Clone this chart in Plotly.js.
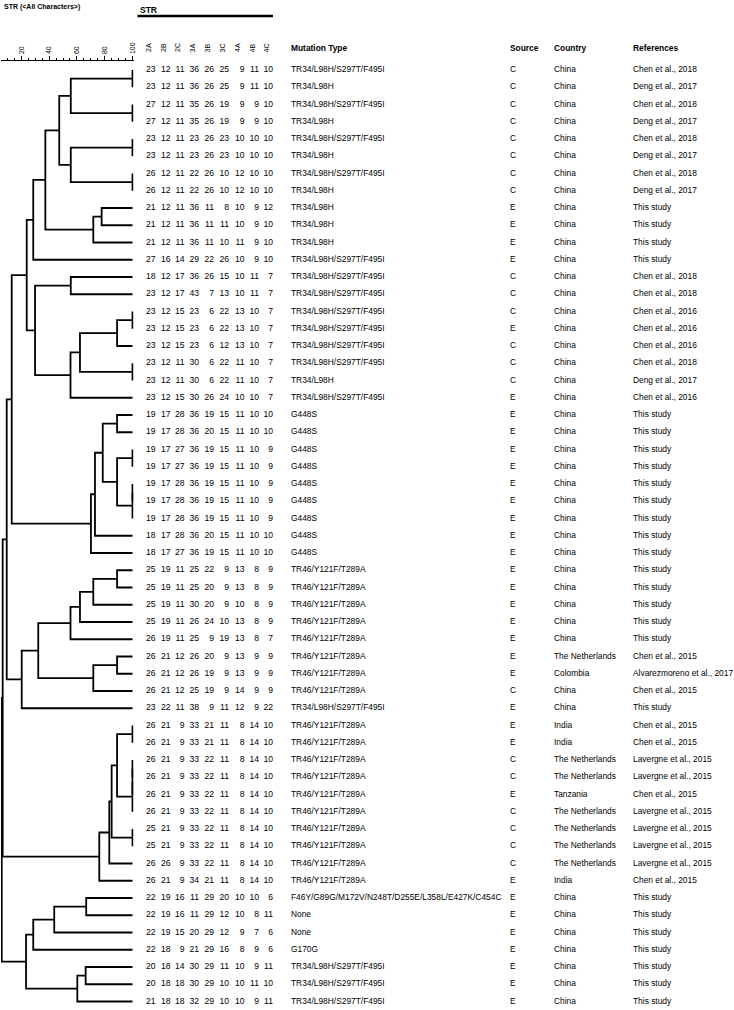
<!DOCTYPE html>
<html>
<head>
<meta charset="utf-8">
<script src="https://cdn.plot.ly/plotly-3.0.1.min.js"></script>
<style>
html,body{margin:0;padding:0;background:#fff;}
#chart{width:734px;height:1010px;}
</style>
</head>
<body>
<div id="chart"></div>
<script>
// ---------------- DATA ----------------
const strLoci = ['2A','2B','2C','3A','3B','3C','4A','4B','4C'];

const str2A = [23,23,27,27,23,23,26,26,21,21,21,27,18,23,23,23,23,23,23,23,19,19,19,19,19,19,19,18,18,25,25,25,25,26,26,26,26,23,26,26,26,26,26,26,25,25,26,26,22,22,22,22,20,20,21];
const str2B = [12,12,12,12,12,12,12,12,12,12,12,16,12,12,12,12,12,12,12,12,17,17,17,17,17,17,17,17,17,19,19,19,19,19,21,21,21,22,21,21,21,21,21,21,21,21,26,21,19,19,19,18,18,18,18];
const str2C = [11,11,11,11,11,11,11,11,11,11,11,14,17,17,15,15,15,11,11,15,28,28,27,27,28,28,28,28,27,11,11,11,11,11,12,12,12,11,9,9,9,9,9,9,9,9,9,9,16,16,15,9,14,18,18];
const str3A = [36,36,35,35,23,23,22,22,36,36,36,29,36,43,23,23,23,30,30,30,36,36,36,36,36,36,36,36,36,25,25,30,26,25,26,26,25,38,33,33,33,33,33,33,33,33,33,34,11,11,20,21,30,30,32];
const str3B = [26,26,26,26,26,26,26,26,11,11,11,22,26,7,6,6,6,6,6,26,19,20,19,19,19,19,19,20,19,22,20,20,24,9,20,19,19,9,21,21,22,22,22,22,22,22,22,21,29,29,29,29,29,29,29];
const str3C = [25,25,19,19,23,23,10,10,8,11,10,26,15,13,22,22,12,22,22,24,15,15,15,15,15,15,15,15,15,9,9,9,10,19,9,9,9,11,11,11,11,11,11,11,11,11,11,11,20,12,12,16,11,10,10];
const str4A = [9,9,9,9,10,10,12,12,10,10,11,10,10,10,13,13,13,11,11,10,11,11,11,11,11,11,11,11,11,13,13,10,13,13,13,13,14,12,8,8,8,8,8,8,8,8,8,8,10,10,9,8,10,10,10];
const str4B = [11,11,9,9,10,10,10,10,9,9,9,9,11,11,10,10,10,10,10,10,10,10,10,10,10,10,10,10,10,8,8,8,8,8,9,9,9,9,14,14,14,14,14,14,14,14,14,14,10,8,7,9,9,11,9];
const str4C = [10,10,10,10,10,10,10,10,12,10,10,10,7,7,7,7,7,7,7,7,10,10,9,9,9,9,9,10,10,9,9,9,9,7,9,9,9,22,10,10,10,10,10,10,10,10,10,10,6,11,6,6,11,10,11];

const A = 'TR34/L98H/S297T/F495I', B = 'TR34/L98H', G = 'G448S', T = 'TR46/Y121F/T289A';
const mutationType = [A,B,A,B,A,B,A,B,B,B,B,A,A,A,A,A,A,A,B,A,G,G,G,G,G,G,G,G,G,T,T,T,T,T,T,T,T,A,T,T,T,T,T,T,T,T,T,T,
  'F46Y/G89G/M172V/N248T/D255E/L358L/E427K/C454C','None','None','G170G',A,A,A];
const source = ['C','C','C','C','C','C','C','C','E','E','E','E','C','C','C','E','C','C','C','E',
  'E','E','E','E','E','E','E','E','E','E','E','E','E','E','E','E','C','E','E','E','C','C','E','C','C','C','C','E',
  'E','E','E','E','E','E','E'];
const NL = 'The Netherlands';
const country = ['China','China','China','China','China','China','China','China','China','China','China','China','China','China','China','China','China','China','China','China',
  'China','China','China','China','China','China','China','China','China','China','China','China','China','China',NL,'Colombia','China','China',
  'India','India',NL,NL,'Tanzania',NL,NL,NL,NL,'India','China','China','China','China','China','China','China'];
const C18 = 'Chen et al., 2018', D17 = 'Deng et al., 2017', C16 = 'Chen et al., 2016', C15 = 'Chen et al., 2015', TS = 'This study', L15 = 'Lavergne et al., 2015';
const references = [C18,D17,C18,D17,C18,D17,C18,D17,TS,TS,TS,TS,C18,C18,C16,C16,C16,C18,D17,C16,
  TS,TS,TS,TS,TS,TS,TS,TS,TS,TS,TS,TS,TS,TS,C15,'Alvarezmoreno et al., 2017',C15,TS,
  C15,C15,L15,L15,C15,L15,L15,L15,L15,C15,TS,TS,TS,TS,TS,TS,TS];

// dendrogram: [left, right, similarity %]; numbers are row indices (1-based)
const clusterTR34 = [
  [ [ [[1,2,100],[3,4,100],55.6], [[5,6,100],[7,8,100],55.6], 47.3 ],
    [ [9,10,77.8], 11, 71.8 ], 37.3 ],
  12, 28.6 ];
const clusterTR34b = [ [13,14,55.6], [ [ [[15,16,100],17,88.9], [18,19,100], 62.2 ], 20, 55.4 ], 29.9 ];
const clusterG448S = [ [ [ [21,22,88.9], [ [23,24,100], [[25,26,100],27,100], 88.9 ], 78.6 ], 28, 73.0 ], 29, 70.1 ];
const clusterTR46a = [ [ [ [ [ [30,31,88.9], 32, 71.8 ], 33, 62.2 ], 34, 55.4 ], [ [35,36,88.9], 37, 71.8 ], 32.2 ], 38, 20.3 ];
const clusterTR46b = [ [ [ [ [39,40,100], [[[41,42,100],43,100],44,100], 88.9 ], [45,46,100], 85.0 ], 47, 83.3 ], 48, 76.1 ];
const clusterOther = [ [ [ [49,50,66.7], 51, 43.7 ], 52, 28.6 ], [ [53,54,66.3], 55, 60.3 ], 23.4 ];
const topLevel = [23.9, 13.1, 9.5, 6.6, 5.9];

const axisTicks = [20, 40, 60, 80, 100];

// ---------------- LAYOUT CONSTANTS (pixels) ----------------
const W = 734, H = 1010;
const ROW0 = 70, ROWSTEP = 17.25;
const X100 = 132.5, K = 1.39, DX0 = 1.0, DX1 = 133.5;
const FONT = 'Liberation Sans, Arial, Helvetica, sans-serif';
const FS = 8.4;
const numRight = [155.5, 170.5, 184.5, 199, 214, 229, 244.5, 259, 273];
const colMut = 291, colSrc = 510, colCountry = 554, colRef = 633;
const rowOf = px => 1 + (px - ROW0) / ROWSTEP;

// ---------------- BUILD TREE ----------------
const tree = [ [ [ [ [ clusterTR34, clusterTR34b, topLevel[0] ], clusterG448S, topLevel[1] ], clusterTR46a, topLevel[2] ], clusterTR46b, topLevel[3] ], clusterOther, topLevel[4] ];

const segX = [], segY = [];
function walk(node) {
  if (typeof node === 'number') return {y: node, s: 100};
  const L = walk(node[0]), R = walk(node[1]), s = node[2];
  segX.push(L.s, s, s, R.s, null);
  segY.push(L.y, L.y, R.y, R.y, null);
  return {y: (L.y + R.y) / 2, s: s};
}
walk(tree);

const rows = str2A.map((_, i) => i + 1);
const strCols = [str2A, str2B, str2C, str3A, str3B, str3C, str4A, str4B, str4C];

const traces = [];
traces.push({
  type: 'scatter', mode: 'lines', x: segX, y: segY, xaxis: 'x', yaxis: 'y',
  line: {color: '#000', width: 1.8}, hoverinfo: 'skip', cliponaxis: false, showlegend: false
});

strCols.forEach((col, j) => {
  traces.push({
    type: 'scatter', mode: 'text', xaxis: 'x2', yaxis: 'y',
    x: rows.map(() => numRight[j]), y: rows, text: col.map(String),
    textposition: 'middle left', textfont: {family: FONT, size: 8.6, color: '#000'},
    hoverinfo: 'skip', cliponaxis: false, showlegend: false
  });
});

[[mutationType, colMut], [source, colSrc], [country, colCountry], [references, colRef]].forEach(([col, xp]) => {
  traces.push({
    type: 'scatter', mode: 'text', xaxis: 'x2', yaxis: 'y',
    x: rows.map(() => xp), y: rows, text: col,
    textposition: 'middle right', textfont: {family: FONT, size: FS, color: '#000'},
    hoverinfo: 'skip', cliponaxis: false, showlegend: false
  });
});

const headerTexts = ['<b>Mutation Type</b>', '<b>Source</b>', '<b>Country</b>', '<b>References</b>'];
const headerX = [colMut, colSrc, colCountry, colRef];
traces.push({
  type: 'scatter', mode: 'text', xaxis: 'x2', yaxis: 'y',
  x: headerX, y: headerX.map(() => rowOf(49)), text: headerTexts,
  textposition: 'middle right', textfont: {family: FONT, size: FS, color: '#000'},
  hoverinfo: 'skip', cliponaxis: false, showlegend: false
});

const annotations = strLoci.map((lab, j) => ({
  xref: 'x2', yref: 'y', x: numRight[j] - 7.5, y: rowOf(48), text: lab,
  textangle: -90, showarrow: false, font: {family: FONT, size: 7, color: '#000'},
  xanchor: 'center', yanchor: 'middle'
}));
annotations.push({
  xref: 'x2', yref: 'y', x: 2, y: rowOf(7), text: '<b>STR (&lt;All Characters&gt;)</b>',
  showarrow: false, xanchor: 'left', yanchor: 'middle', font: {family: FONT, size: 7, color: '#000'}
});
annotations.push({
  xref: 'x2', yref: 'y', x: 138, y: rowOf(9.5), text: '<b>STR</b>',
  showarrow: false, xanchor: 'left', yanchor: 'middle', font: {family: FONT, size: 8.5, color: '#000'}
});

const shapes = [{
  type: 'line', xref: 'x2', yref: 'y', x0: 137.5, x1: 273, y0: rowOf(16), y1: rowOf(16),
  line: {color: '#000', width: 2.5}
}];

const layout = {
  width: W, height: H,
  margin: {l: 0, r: 0, t: 0, b: 0, pad: 0},
  paper_bgcolor: '#fff', plot_bgcolor: 'rgba(0,0,0,0)',
  showlegend: false,
  xaxis: {
    domain: [DX0 / W, DX1 / W],
    range: [100 - (X100 - DX0) / K, 100 + (DX1 - X100) / K],
    anchor: 'free', position: 1 - 59.5 / H, side: 'top',
    showline: true, linecolor: '#000', linewidth: 1,
    ticks: 'outside', ticklen: 4, tickwidth: 1, tickcolor: '#000',
    tickmode: 'array', tickvals: axisTicks, ticktext: axisTicks.map(String),
    tickangle: -90, tickfont: {family: FONT, size: 7, color: '#000'},
    showgrid: false, zeroline: false, fixedrange: true,
    minor: {dtick: 5, tick0: 0, ticks: 'outside', ticklen: 2, tickwidth: 1, tickcolor: '#000', showgrid: false}
  },
  xaxis2: {domain: [0, 1], range: [0, W], visible: false, anchor: 'y', fixedrange: true},
  yaxis: {domain: [0, 1], range: [1 + (H - ROW0) / ROWSTEP, 1 - ROW0 / ROWSTEP], visible: false, fixedrange: true},
  annotations: annotations,
  shapes: shapes
};

Plotly.newPlot('chart', traces, layout, {staticPlot: true, displayModeBar: false});
</script>
</body>
</html>
